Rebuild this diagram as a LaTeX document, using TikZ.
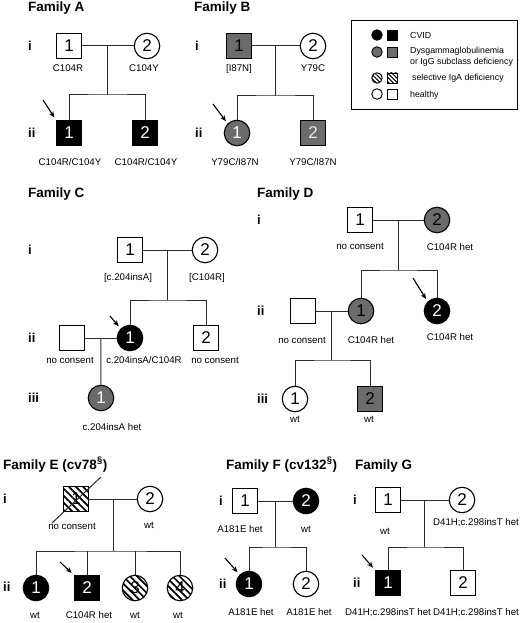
\documentclass[tikz,border=0pt]{standalone}
\usepackage{fontspec}
\setmainfont{Liberation Sans}
\usepackage{xcolor}
\definecolor{dysgray}{HTML}{6B6B6B}
\definecolor{pedline}{HTML}{2B2B2B}
\usepackage{tikz}
\usetikzlibrary{arrows.meta,positioning,calc,patterns.meta}
\tikzset{
    ped_sq/.style={draw=black, fill=white, rectangle, line width=1.1pt, minimum size=25pt, inner sep=0pt, font=\fontsize{17}{17}\selectfont},
    ped_ci/.style={draw=black, fill=white, circle, line width=1.1pt, minimum size=25.5pt, inner sep=0pt, font=\fontsize{17}{17}\selectfont},
    ped_cvid/.style={fill=black, text=white},
    ped_dys/.style={fill=dysgray},
    ped_iga/.style={pattern={Lines[angle=-45, distance=5pt, line width=1.7pt]}},
    ped_lbl/.style={font=\fontsize{9.7}{11}\selectfont, inner sep=0pt, text height=7pt, text depth=2pt},
    ped_title/.style={font=\bfseries\fontsize{13.5}{15}\selectfont, anchor=base west, inner sep=0pt},
    ped_gen/.style={font=\bfseries\fontsize{13}{15}\selectfont, anchor=west, inner sep=0pt},
    ped_edge/.style={draw=pedline, line width=1pt},
    ped_arrow/.style={draw=black, line width=1.1pt, -{Stealth[length=6pt, width=5pt]}, shorten >=3pt},
    key_sq/.style={draw=black, rectangle, line width=0.9pt, minimum size=10pt, inner sep=0pt},
    key_ci/.style={draw=black, circle, line width=0.9pt, minimum size=10.5pt, inner sep=0pt},
    key_iga/.style={pattern={Lines[angle=-45, distance=3pt, line width=1.1pt]}},
    key_txt/.style={font=\fontsize{8.8}{11}\selectfont, anchor=west, inner sep=0pt, align=left}
}

\begin{document}
\begin{tikzpicture}[x=1pt, y=-1pt]
\useasboundingbox (0,0) rectangle (520,623);

% legend
\node[draw=black, line width=1pt, minimum width=166pt, minimum height=89pt, inner sep=0pt] (key) at (434,65.5) {};
\node[key_ci, fill=black] (k1c) at (377,35) {};
\node[key_sq, fill=black] (k1s) at (392,35) {};
\node[key_ci, fill=dysgray] (k2c) at (377,52) {};
\node[key_sq, fill=dysgray] (k2s) at (392,52) {};
\node[key_ci, key_iga] (k3c) at (377,78) {};
\node[key_sq, key_iga] (k3s) at (392,78) {};
\node[key_ci] (k4c) at (377,94) {};
\node[key_sq] (k4s) at (392,94) {};
\node[key_txt] (k1t) at (410,35) {CVID};
\node[key_txt] (k2t) at (410,56.5) {Dysgammaglobulinemia\\or IgG subclass deficiency};
\node[key_txt] (k3t) at (412,78) {selective IgA deficiency};
\node[key_txt] (k4t) at (410,95) {healthy};

% Family A
\node[ped_title] (famA) at (28,12) {Family A};
\node[ped_gen] (Ai) at (28,46) {i};
\node[ped_gen] (Aii) at (28,133) {ii};
\node[ped_sq] (A11) at (69,46) {1};
\node[ped_ci] (A12) at (147,46) {2};
\node[ped_sq, ped_cvid] (A21) at (69,133) {1};
\node[ped_sq, ped_cvid] (A22) at (145,133) {2};
\node[ped_lbl] (A11g) at (68,69) {C104R};
\node[ped_lbl] (A12g) at (144,69) {C104Y};
\node[ped_lbl] (A21g) at (70,163) {C104R/C104Y};
\node[ped_lbl] (A22g) at (146,163) {C104R/C104Y};
\coordinate (Am) at ($(A11.east)!0.5!(A12.west)$);
\coordinate (As) at ($(Am)+(0,49)$);
\coordinate (Aa) at (43,100);
\draw[ped_edge] (A11) -- (A12);
\draw[ped_edge] (Am) -- (As);
\draw[ped_edge] (A21) |- (As) -| (A22);
\draw[ped_arrow] (Aa) -- (A21.north west);

% Family B
\node[ped_title] (famB) at (194,12) {Family B};
\node[ped_gen] (Bi) at (195,46) {i};
\node[ped_gen] (Bii) at (195,133) {ii};
\node[ped_sq, ped_dys] (B11) at (239,46) {1};
\node[ped_ci] (B12) at (313,46) {2};
\node[ped_ci, ped_dys, text=white] (B21) at (237,133) {1};
\node[ped_sq, ped_dys, text=white!85!gray] (B22) at (313,133) {2};
\node[ped_lbl] (B11g) at (239,69) {[I87N]};
\node[ped_lbl] (B12g) at (313,69) {Y79C};
\node[ped_lbl] (B21g) at (235,163) {Y79C/I87N};
\node[ped_lbl] (B22g) at (313,163) {Y79C/I87N};
\coordinate (Bm) at ($(B11.east)!0.5!(B12.west)$);
\coordinate (Bs) at ($(Bm)+(0,50)$);
\coordinate (Ba) at (213,104);
\draw[ped_edge] (B11) -- (B12);
\draw[ped_edge] (Bm) -- (Bs);
\draw[ped_edge] (B21) |- (Bs) -| (B22);
\draw[ped_arrow] (Ba) -- (B21.north west);

% Family C
\node[ped_title] (famC) at (28,197) {Family C};
\node[ped_gen] (Ci) at (28,250) {i};
\node[ped_gen] (Cii) at (28,338) {ii};
\node[ped_gen] (Ciii) at (28,398) {iii};
\node[ped_sq] (C11) at (130,250) {1};
\node[ped_ci] (C12) at (205,250) {2};
\node[ped_sq] (C20) at (72,338) {};
\node[ped_ci, ped_cvid] (C21) at (130,338) {1};
\node[ped_sq] (C22) at (206,338) {2};
\node[ped_ci, ped_dys, text=white] (C31) at (101,398) {1};
\node[ped_lbl] (C11g) at (128,278) {[c.204insA]};
\node[ped_lbl] (C12g) at (207,278) {[C104R]};
\node[ped_lbl] (C20g) at (70,361) {no consent};
\node[ped_lbl] (C21g) at (144,361) {c.204insA/C104R};
\node[ped_lbl] (C22g) at (215,361) {no consent};
\node[ped_lbl] (C31g) at (112,428) {c.204insA het};
\coordinate (Cm) at ($(C11.east)!0.5!(C12.west)$);
\coordinate (Cs) at ($(Cm)+(0,50)$);
\coordinate (Cm2) at ($(C20.east)!0.5!(C21.west)$);
\coordinate (Ca) at (110,316);
\draw[ped_edge] (C11) -- (C12);
\draw[ped_edge] (Cm) -- (Cs);
\draw[ped_edge] (C21) |- (Cs) -| (C22);
\draw[ped_edge] (C20) -- (C21);
\draw[ped_edge] (Cm2) -- (C31);
\draw[ped_arrow] (Ca) -- (C21.north west);

% Family D
\node[ped_title] (famD) at (257,197) {Family D};
\node[ped_gen] (Di) at (257,220) {i};
\node[ped_gen] (Dii) at (257,311) {ii};
\node[ped_gen] (Diii) at (257,399) {iii};
\node[ped_sq] (D11) at (360,220) {1};
\node[ped_ci, ped_dys] (D12) at (437,220) {2};
\node[ped_sq] (D20) at (303,311) {};
\node[ped_ci, ped_dys] (D21) at (361,311) {1};
\node[ped_ci, ped_cvid] (D22) at (437,311) {2};
\node[ped_ci] (D31) at (295,399) {1};
\node[ped_sq, ped_dys] (D32) at (370,399) {2};
\node[ped_lbl] (D11g) at (360,247) {no consent};
\node[ped_lbl] (D12g) at (450,248) {C104R het};
\node[ped_lbl] (D20g) at (302,341) {no consent};
\node[ped_lbl] (D21g) at (371,341) {C104R het};
\node[ped_lbl] (D22g) at (450,338) {C104R het};
\node[ped_lbl] (D31g) at (295,420) {wt};
\node[ped_lbl] (D32g) at (369,420) {wt};
\coordinate (Dm) at ($(D11.east)!0.5!(D12.west)$);
\coordinate (Ds) at ($(Dm)+(0,50)$);
\coordinate (Dm2) at ($(D20.east)!0.5!(D21.west)$);
\coordinate (Ds2) at ($(Dm2)+(0,49)$);
\coordinate (Da) at (413,278);
\draw[ped_edge] (D11) -- (D12);
\draw[ped_edge] (Dm) -- (Ds);
\draw[ped_edge] (D21) |- (Ds) -| (D22);
\draw[ped_edge] (D20) -- (D21);
\draw[ped_edge] (Dm2) -- (Ds2);
\draw[ped_edge] (D31) |- (Ds2) -| (D32);
\draw[ped_arrow] (Da) -- (D22.north west);

% Family E
\node[ped_title] (famE) at (3,469) {Family E (cv78\textsuperscript{\S})};
\node[ped_gen] (Ei) at (3,499) {i};
\node[ped_gen] (Eii) at (3,587) {ii};
\node[ped_sq, ped_iga] (E11) at (76,499) {1};
\node[ped_ci] (E12) at (150,499) {2};
\node[ped_ci, ped_cvid] (E21) at (36,588) {1};
\node[ped_sq, ped_cvid] (E22) at (87,588) {2};
\node[ped_ci, ped_iga] (E23) at (135,588) {3};
\node[ped_ci, ped_iga] (E24) at (180,588) {4};
\node[ped_lbl] (E11g) at (72,527) {no consent};
\node[ped_lbl] (E12g) at (149,526) {wt};
\node[ped_lbl] (E21g) at (35,616) {wt};
\node[ped_lbl] (E22g) at (89,616) {C104R het};
\node[ped_lbl] (E23g) at (135,616) {wt};
\node[ped_lbl] (E24g) at (178,616) {wt};
\coordinate (Em) at ($(E11.east)!0.5!(E12.west)$);
\coordinate (Es) at ($(Em)+(0,52)$);
\coordinate (E11a) at (52,523);
\coordinate (E11b) at (101,477);
\coordinate (Ea) at (60,562);
\draw[ped_edge] (E11a) -- (E11b);
\draw[ped_edge] (E11) -- (E12);
\draw[ped_edge] (Em) -- (Es);
\draw[ped_edge] (E21) |- (Es) -| (E24);
\draw[ped_edge] (E22) -- (E22 |- Es);
\draw[ped_edge] (E23) -- (E23 |- Es);
\draw[ped_arrow] (Ea) -- (E22.north west);

% Family F
\node[ped_title] (famF) at (226,469) {Family F (cv132\textsuperscript{\S})};
\node[ped_gen] (Fi) at (219,501) {i};
\node[ped_gen] (Fii) at (219,584) {ii};
\node[ped_sq] (F11) at (245,501) {1};
\node[ped_ci, ped_cvid] (F12) at (306,501) {2};
\node[ped_ci, ped_cvid] (F21) at (249,584) {1};
\node[ped_ci] (F22) at (306,584) {2};
\node[ped_lbl] (F11g) at (240,530) {A181E het};
\node[ped_lbl] (F12g) at (306,530) {wt};
\node[ped_lbl] (F21g) at (251,613) {A181E het};
\node[ped_lbl] (F22g) at (309,613) {A181E het};
\coordinate (Fm) at ($(F11.east)!0.5!(F12.west)$);
\coordinate (Fs) at ($(Fm)+(0,46)$);
\coordinate (Fa) at (225,558);
\draw[ped_edge] (F11) -- (F12);
\draw[ped_edge] (Fm) -- (Fs);
\draw[ped_edge] (F21) |- (Fs) -| (F22);
\draw[ped_arrow] (Fa) -- (F21.north west);

% Family G
\node[ped_title] (famG) at (355,469) {Family G};
\node[ped_gen] (Gi) at (353,500) {i};
\node[ped_gen] (Gii) at (353,583) {ii};
\node[ped_sq] (G11) at (388,500) {1};
\node[ped_ci] (G12) at (462,500) {2};
\node[ped_sq, ped_cvid] (G21) at (388,583) {1};
\node[ped_sq] (G22) at (463,583) {2};
\node[ped_lbl] (G11g) at (385,532) {wt};
\node[ped_lbl] (G12g) at (476,523) {D41H;c.298insT het};
\node[ped_lbl] (G21g) at (388,613) {D41H;c.298insT het};
\node[ped_lbl] (G22g) at (476,613) {D41H;c.298insT het};
\coordinate (Gm) at ($(G11.east)!0.5!(G12.west)$);
\coordinate (Gs) at ($(Gm)+(0,47)$);
\coordinate (Ga) at (362,555);
\draw[ped_edge] (G11) -- (G12);
\draw[ped_edge] (Gm) -- (Gs);
\draw[ped_edge] (G21) |- (Gs) -| (G22);
\draw[ped_arrow] (Ga) -- (G21.north west);
\end{tikzpicture}
\end{document}
